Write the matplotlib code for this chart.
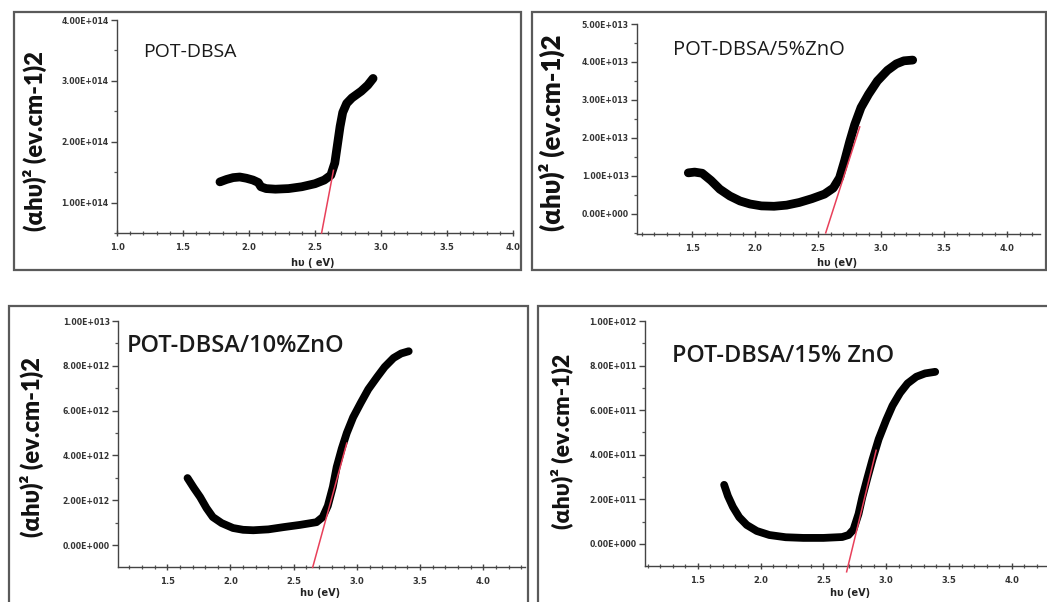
import matplotlib
matplotlib.use("Agg")
import matplotlib.pyplot as plt
from matplotlib.patches import Rectangle
from matplotlib.ticker import FixedLocator, MultipleLocator, FuncFormatter

W, H = 1047, 602

# ---------------- data ----------------
titles = ["POT-DBSA", "POT-DBSA/5%ZnO", "POT-DBSA/10%ZnO", "POT-DBSA/15% ZnO"]

p1_x = [1.78, 1.83, 1.88, 1.93, 1.98, 2.03, 2.07, 2.09, 2.13, 2.20, 2.30, 2.40, 2.50,
        2.57, 2.62, 2.65, 2.67, 2.69, 2.71, 2.74, 2.78, 2.85, 2.90, 2.94]
p1_y = [1.34, 1.38, 1.41, 1.42, 1.40, 1.37, 1.33, 1.26, 1.23, 1.22, 1.23, 1.26, 1.31,
        1.37, 1.45, 1.65, 1.95, 2.25, 2.48, 2.63, 2.72, 2.83, 2.93, 3.04]  # x1e14
p1_fit_x = [2.55, 2.64]
p1_fit_y = [0.50, 1.53]

p2_x = [1.47, 1.52, 1.58, 1.65, 1.72, 1.80, 1.88, 1.96, 2.05, 2.15, 2.25, 2.35, 2.45,
        2.55, 2.62, 2.67, 2.71, 2.75, 2.79, 2.84, 2.90, 2.97, 3.05, 3.12, 3.18, 3.25]
p2_y = [1.08, 1.10, 1.07, 0.88, 0.65, 0.47, 0.34, 0.26, 0.21, 0.20, 0.23, 0.30, 0.40,
        0.52, 0.68, 0.95, 1.40, 1.90, 2.35, 2.80, 3.15, 3.50, 3.78, 3.95, 4.03, 4.05]  # x1e13
p2_fit_x = [2.56, 2.83]
p2_fit_y = [-0.50, 2.29]

p3_x = [1.66, 1.71, 1.76, 1.81, 1.86, 1.93, 2.02, 2.10, 2.18, 2.30, 2.42, 2.55, 2.68,
        2.73, 2.77, 2.81, 2.84, 2.88, 2.92, 2.97, 3.03, 3.09, 3.16, 3.22, 3.29, 3.35, 3.41]
p3_y = [2.99, 2.55, 2.14, 1.65, 1.25, 0.98, 0.76, 0.68, 0.66, 0.70, 0.80, 0.90, 1.02,
        1.25, 1.75, 2.60, 3.48, 4.30, 5.00, 5.70, 6.34, 6.95, 7.50, 7.95, 8.35, 8.55, 8.65]  # x1e12
p3_fit_x = [2.65, 2.92]
p3_fit_y = [-1.00, 4.55]

p4_x = [1.71, 1.74, 1.78, 1.83, 1.89, 1.97, 2.07, 2.20, 2.34, 2.50, 2.65, 2.70, 2.74,
        2.78, 2.81, 2.85, 2.89, 2.94, 3.00, 3.05, 3.11, 3.17, 3.24, 3.31, 3.39]
p4_y = [2.65, 2.15, 1.66, 1.20, 0.85, 0.58, 0.40, 0.30, 0.27, 0.27, 0.31, 0.40, 0.65,
        1.35, 2.10, 2.95, 3.77, 4.70, 5.56, 6.20, 6.77, 7.20, 7.50, 7.65, 7.72]  # x1e11
p4_fit_x = [2.685, 2.92]
p4_fit_y = [-1.25, 4.20]

scales = [1e14, 1e13, 1e12, 1e11]
y_ticks = [[1, 2, 3, 4], [0, 1, 2, 3, 4, 5], [0, 2, 4, 6, 8, 10], [0, 2, 4, 6, 8, 10]]
x_ticks = [[1.0, 1.5, 2.0, 2.5, 3.0, 3.5, 4.0], [1.5, 2.0, 2.5, 3.0, 3.5, 4.0],
           [1.5, 2.0, 2.5, 3.0, 3.5, 4.0], [1.5, 2.0, 2.5, 3.0, 3.5, 4.0]]
xlabels = ["h\u03c5 ( eV)", "h\u03c5 (eV)", "h\u03c5 (eV)", "h\u03c5 (eV)"]
ylabel = "(\u03b1h\u03c5)\u00b2 (ev.cm-1)2"

# ---------------- layout ----------------
fig = plt.figure(figsize=(W / 100, H / 100), dpi=100)
fig.patch.set_facecolor("white")


def frac(x0, y0, x1, y1):
    return [x0 / W, 1 - y1 / H, (x1 - x0) / W, (y1 - y0) / H]


frames = [(14, 12, 521, 270), (532, 12, 1046, 270), (9, 306, 528, 640), (538, 306, 1070, 640)]
for (x0, y0, x1, y1) in frames:
    fig.patches.append(Rectangle((x0 / W, 1 - y1 / H), (x1 - x0) / W, (y1 - y0) / H,
                                 transform=fig.transFigure, fill=False,
                                 edgecolor="#5a5a5a", lw=1.6, zorder=0))

axes_px = [(117, 20, 513, 233), (637, 24, 1040, 234), (118, 321, 525, 567), (645, 321, 1047, 566)]
xlims = [(1.0, 4.0), (1.063, 4.26), (1.11, 4.33), (1.08, 4.28)]
ylims = [(0.5, 4.0), (-0.53, 5.0), (-0.98, 10.0), (-0.99, 10.0)]
xs = [p1_x, p2_x, p3_x, p4_x]
ys = [p1_y, p2_y, p3_y, p4_y]
fxs = [p1_fit_x, p2_fit_x, p3_fit_x, p4_fit_x]
fys = [p1_fit_y, p2_fit_y, p3_fit_y, p4_fit_y]
lws = [6.3, 6.3, 5.6, 5.6]


def sci(v, scale):
    val = v * scale
    if abs(val) < 1e-30:
        return "0.00E+000"
    s = "%.2E" % val
    m, e = s.split("E")
    sign = e[0]
    return "%sE%s%03d" % (m, sign, int(e[1:]))


for i in range(4):
    ax = fig.add_axes(frac(*axes_px[i]))
    ax.set_facecolor("none")
    ax.plot(xs[i], ys[i], color="black", lw=lws[i], solid_capstyle="round",
            solid_joinstyle="round", zorder=3)
    ax.plot(fxs[i], fys[i], color="#e8405a", lw=1.1, zorder=4, clip_on=False)
    ax.set_xlim(*xlims[i])
    ax.set_ylim(*ylims[i])
    for s in ["top", "right"]:
        ax.spines[s].set_visible(False)
    for s in ["left", "bottom"]:
        ax.spines[s].set_color("#444444")
        ax.spines[s].set_linewidth(1.0)
    ax.xaxis.set_major_locator(FixedLocator(x_ticks[i]))
    ax.xaxis.set_minor_locator(MultipleLocator(0.1))
    ax.yaxis.set_major_locator(FixedLocator(y_ticks[i]))
    step = y_ticks[i][1] - y_ticks[i][0]
    ax.yaxis.set_minor_locator(MultipleLocator(step / 2))
    ax.xaxis.set_major_formatter(FuncFormatter(lambda v, p: "%.1f" % v))
    sc = scales[i]
    ax.yaxis.set_major_formatter(FuncFormatter(lambda v, p, sc=sc: sci(v, sc)))
    ax.tick_params(axis="x", which="major", direction="inout", length=5, width=1,
                   color="#444444", labelsize=6.0, pad=5, labelcolor="#333333")
    ax.tick_params(axis="x", which="minor", direction="inout", length=3, width=0.9,
                   color="#555555")
    ax.tick_params(axis="y", which="major", direction="out", length=4, width=1,
                   color="#444444", labelsize=5.6, pad=2, labelcolor="#333333")
    ax.tick_params(axis="y", which="minor", direction="out", length=2.5, width=0.9,
                   color="#555555")
    for lab in ax.get_xticklabels() + ax.get_yticklabels():
        lab.set_fontweight("bold")

# y-axis labels
ylab_pos = [(35, 141, 17.0), (552, 133, 18.5), (32, 447, 17.0), (562, 441, 16.5)]
for (x, y, fs) in ylab_pos:
    fig.text(x / W, 1 - y / H, ylabel, rotation=90, ha="center", va="center",
             fontsize=fs, fontweight="heavy", family=["Lato", "DejaVu Sans"], color="#111111")

# titles
title_pos = [(143, 52, 14.0, "normal"), (673, 50, 14.5, "normal"),
             (127, 346, 17.0, "semibold"), (672, 356, 16.8, "semibold")]
for t, (x, y, fs, fw) in zip(titles, title_pos):
    fig.text(x / W, 1 - y / H, t, ha="left", va="center", fontsize=fs, fontweight=fw,
             family=["Open Sans", "DejaVu Sans"], color="#1a1a1a")

# x-axis labels
xlab_pos = [(313, 263), (837, 263), (320, 593), (850, 593)]
for t, (x, y) in zip(xlabels, xlab_pos):
    fig.text(x / W, 1 - y / H, t, ha="center", va="center", fontsize=7,
             fontweight="bold", color="#222222")

fig.savefig("out.png", dpi=100, facecolor="white")
